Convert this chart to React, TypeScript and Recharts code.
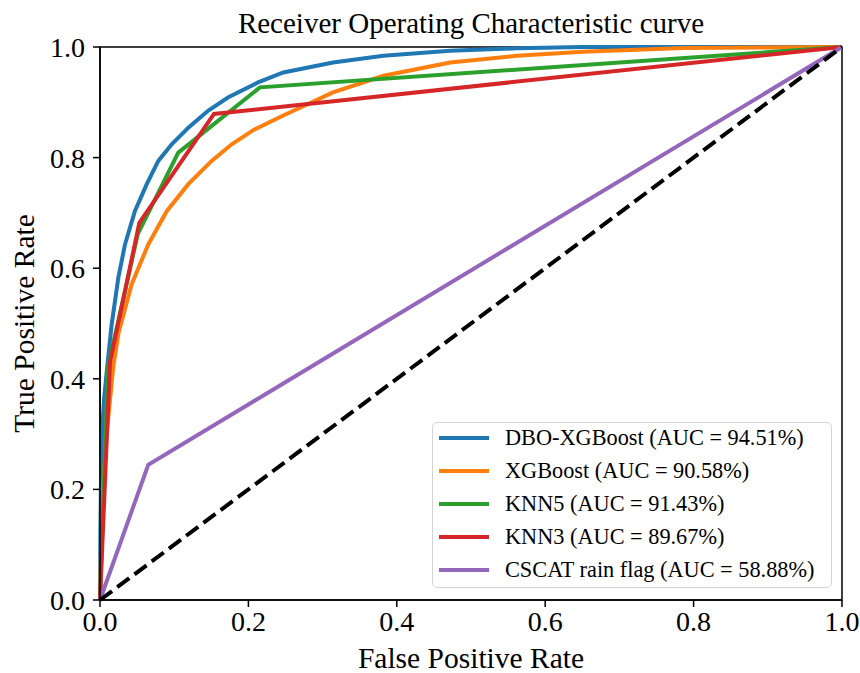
import React from "react";
import {
  LineChart, Line, XAxis, YAxis, ReferenceArea,
} from "recharts";

// ROC points, [FPR, TPR]
const dboXgb = [
  [0, 0], [0.0005, 0.12], [0.0012, 0.2], [0.0027, 0.3], [0.0054, 0.362],
  [0.0098, 0.423], [0.0157, 0.498], [0.0247, 0.583], [0.0337, 0.643],
  [0.047, 0.703], [0.063, 0.752], [0.0786, 0.794], [0.0966, 0.824],
  [0.119, 0.854], [0.146, 0.885], [0.173, 0.909], [0.213, 0.936],
  [0.247, 0.954], [0.314, 0.972], [0.382, 0.984], [0.472, 0.993],
  [0.562, 0.9976], [0.651, 1.0], [1, 1],
];
const xgb = [
  [0, 0], [0.0015, 0.1], [0.004, 0.2], [0.009, 0.3], [0.0135, 0.362],
  [0.018, 0.423], [0.025, 0.483], [0.0427, 0.571], [0.065, 0.643],
  [0.0899, 0.703], [0.119, 0.752], [0.1505, 0.794], [0.1775, 0.824],
  [0.207, 0.850], [0.247, 0.876], [0.314, 0.918], [0.382, 0.948],
  [0.472, 0.972], [0.562, 0.984], [0.651, 0.9915], [0.786, 0.998], [1, 1],
];
const knn5 = [[0, 0], [0.0105, 0.42], [0.051, 0.662], [0.1055, 0.809], [0.2156, 0.927], [1, 1]];
const knn3 = [[0, 0], [0.0135, 0.43], [0.053, 0.682], [0.1536, 0.879], [1, 1]];
const cscat = [[0, 0], [0.065, 0.2446], [1, 1]];
const chance = [[0, 0], [1, 1]];

const seriesNames = [
  "DBO-XGBoost (AUC = 94.51%)",
  "XGBoost (AUC = 90.58%)",
  "KNN5 (AUC = 91.43%)",
  "KNN3 (AUC = 89.67%)",
  "CSCAT rain flag (AUC = 58.88%)",
];
const seriesData = [dboXgb, xgb, knn5, knn3, cscat];
const colors = ["#1f77b4", "#ff7f0e", "#2ca02c", "#d62728", "#9467bd"];
const ticks = [0, 0.2, 0.4, 0.6, 0.8, 1.0];

const FONT = "'Liberation Serif', 'Times New Roman', serif";

const toPts = (arr: number[][]) => arr.map(([x, y]) => ({ x, y }));

function RocLegend() {
  return (
    <div
      style={{
        position: "absolute", left: 432, top: 422, width: 400, height: 166, boxSizing: "border-box",
        border: "1.5px solid #d4d4d4",
        borderRadius: 5,
        background: "#fff",
        padding: "0 0 0 6px",
        fontFamily: FONT,
        fontSize: 22.3,
        color: "#000",
      }}
    >
      {seriesNames.map((n, i) => (
        <div key={n} style={{ display: "flex", alignItems: "center", height: 33, marginTop: i === 0 ? -2 : 0 }}>
          <span style={{ display: "inline-block", width: 50, height: 4, background: colors[i], marginRight: 16 }} />
          <span style={{ whiteSpace: "nowrap" }}>{n}</span>
        </div>
      ))}
    </div>
  );
}

export default function App() {
  const tickStyle = { fill: "#000", fontSize: 28, fontFamily: FONT };
  const labelFont = 29.5;
  return (
    <div style={{ position: "relative", width: 860, height: 673, background: "#fff" }}>
      <style>{"body{margin:0}"}</style>
      <div
        style={{
          position: "absolute", left: 100, width: 742, top: 6, textAlign: "center",
          fontFamily: FONT, fontSize: 29, color: "#000", lineHeight: "34px",
        }}
      >
        Receiver Operating Characteristic curve
      </div>
      <LineChart width={860} height={673} margin={{ top: 47, right: 18, bottom: 0, left: 0 }}>
        <XAxis
          dataKey="x" type="number" domain={[0, 1]} ticks={ticks}
          tickFormatter={(v: number) => v.toFixed(1)}
          tick={tickStyle} tickSize={7} tickMargin={4}
          axisLine={{ stroke: "#000", strokeWidth: 1.5 }} tickLine={{ stroke: "#000", strokeWidth: 1.5 }}
          height={73} allowDuplicatedCategory={false}
          label={{ value: "False Positive Rate", position: "insideBottom", offset: 5, fill: "#000", fontSize: labelFont, fontFamily: FONT }}
        />
        <YAxis
          dataKey="y" type="number" domain={[0, 1]} ticks={ticks}
          tickFormatter={(v: number) => v.toFixed(1)}
          tick={tickStyle} tickSize={7} tickMargin={8}
          axisLine={{ stroke: "#000", strokeWidth: 1.5 }} tickLine={{ stroke: "#000", strokeWidth: 1.5 }}
          width={100}
          label={{ value: "True Positive Rate", angle: -90, position: "center", dx: -26, fill: "#000", fontSize: labelFont, fontFamily: FONT }}
        />
        <ReferenceArea x1={0} x2={1} y1={0} y2={1} fill="none" stroke="#000" strokeWidth={1.5} strokeOpacity={1} ifOverflow="visible" />
        {seriesData.map((d, i) => (
          <Line
            key={seriesNames[i]} data={toPts(d)} dataKey="y" name={seriesNames[i]}
            stroke={colors[i]} strokeWidth={4} dot={false} activeDot={false}
            type="linear" isAnimationActive={false}
          />
        ))}
        <Line
          data={toPts(chance)} dataKey="y" name="chance" stroke="#000" strokeWidth={4}
          strokeDasharray="15 6.5" dot={false} activeDot={false} type="linear"
          isAnimationActive={false} legendType="none"
        />
      </LineChart>
      <RocLegend />
    </div>
  );
}
